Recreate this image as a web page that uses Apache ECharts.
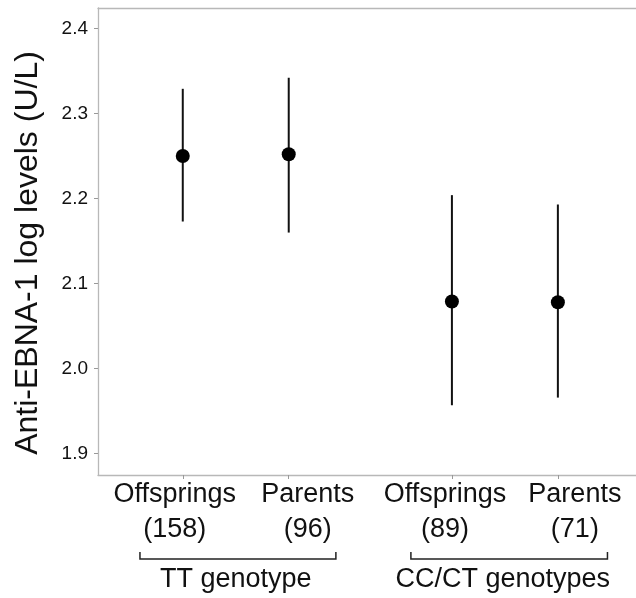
<!DOCTYPE html>
<html>
<head>
<meta charset="utf-8">
<script src="https://cdn.jsdelivr.net/npm/echarts@6/dist/echarts.min.js"></script>
<style>
html,body{margin:0;padding:0;background:#fff;overflow:hidden;width:636px;height:598px;}
#chart{width:700px;height:598px;}
</style>
</head>
<body>
<div id="chart"></div>
<script>
// ---- data ----
const categories = ['Offsprings', 'Parents', 'Offsprings', 'Parents'];
const counts = ['(158)', '(96)', '(89)', '(71)'];
const xPositions = [1, 2, 3.54, 4.54];
const means = [2.250, 2.252, 2.079, 2.078];
const lowers = [2.173, 2.160, 1.957, 1.966];
const uppers = [2.329, 2.342, 2.204, 2.193];
const yTicks = [1.9, 2.0, 2.1, 2.2, 2.3, 2.4];
const groupNames = ['TT genotype', 'CC/CT genotypes'];
const yTitle = 'Anti-EBNA-1 log levels (U/L)';

// ---- layout (not data) ----
const FONT = '"Liberation Sans", Arial, Helvetica, sans-serif';
const groupSpans = [[0.596, 2.445], [3.153, 5.008]];
const groupCenters = [1.50, 4.02];
const labelShift = [-8, 19, -7, 17];
const AXIS_GRAY = '#b8b8b8';

const chart = echarts.init(document.getElementById('chart'), null, {renderer: 'canvas'});

const pointData = xPositions.map((x, i) => [x, means[i]]);
const barData = xPositions.map((x, i) => [x, lowers[i], uppers[i]]);

chart.setOption({
  animation: false,
  backgroundColor: '#fff',
  grid: {
    left: 98, top: 8, right: 51, bottom: 123,
    outerBoundsMode: 'none',
    containLabel: false,
    show: false
  },
  xAxis: [
    {
      type: 'value', min: 0.2, max: 5.4, position: 'bottom',
      splitLine: {show: false},
      axisLine: {show: true, lineStyle: {color: AXIS_GRAY, width: 1.3}},
      axisTick: {show: true, customValues: xPositions, length: 4, lineStyle: {color: '#999'}},
      axisLabel: {show: false}
    },
    {
      type: 'value', min: 0.2, max: 5.4, position: 'top',
      splitLine: {show: false},
      axisLine: {show: true, lineStyle: {color: AXIS_GRAY, width: 1.3}},
      axisTick: {show: false},
      axisLabel: {show: false}
    }
  ],
  yAxis: {
    type: 'value', min: 1.875, max: 2.424,
    splitLine: {show: false},
    axisLine: {show: true, lineStyle: {color: AXIS_GRAY, width: 1.3}},
    axisTick: {show: true, customValues: yTicks, length: 4, lineStyle: {color: '#999'}},
    axisLabel: {
      customValues: yTicks, margin: 10,
      fontSize: 19, fontFamily: FONT, color: '#111',
      formatter: v => v.toFixed(1)
    }
  },
  series: [
    {
      type: 'custom',
      data: barData,
      encode: {x: 0, y: [1, 2]},
      renderItem: function (params, api) {
        const x = api.value(0);
        const lo = api.coord([x, api.value(1)]);
        const hi = api.coord([x, api.value(2)]);
        return {
          type: 'line',
          shape: {x1: lo[0], y1: lo[1], x2: hi[0], y2: hi[1]},
          style: {stroke: '#111', lineWidth: 2}
        };
      },
      z: 2
    },
    {
      type: 'scatter',
      data: pointData,
      symbol: 'circle',
      symbolSize: 14,
      itemStyle: {color: '#000', opacity: 1},
      z: 3
    }
  ]
});

function drawAnnotations() {
  const els = [];
  xPositions.forEach((x, i) => {
    const px = chart.convertToPixel({xAxisIndex: 0}, x) + labelShift[i];
    els.push({
      type: 'text', x: px, y: 495,
      style: {text: categories[i], font: '27px ' + FONT, fill: '#111', align: 'center', verticalAlign: 'middle'}
    });
    els.push({
      type: 'text', x: px, y: 530,
      style: {text: counts[i], font: '27px ' + FONT, fill: '#111', align: 'center', verticalAlign: 'middle'}
    });
  });
  const yBracket = 559;
  const hook = 7;
  groupSpans.forEach((span, g) => {
    const x1 = chart.convertToPixel({xAxisIndex: 0}, span[0]);
    const x2 = chart.convertToPixel({xAxisIndex: 0}, span[1]);
    els.push({
      type: 'polyline',
      shape: {points: [[x1, yBracket - hook], [x1, yBracket], [x2, yBracket], [x2, yBracket - hook]]},
      style: {stroke: '#222', lineWidth: 1.5, fill: null}
    });
    const cx = chart.convertToPixel({xAxisIndex: 0}, groupCenters[g]);
    els.push({
      type: 'text', x: cx, y: 580,
      style: {text: groupNames[g], font: '27px ' + FONT, fill: '#111', align: 'center', verticalAlign: 'middle'}
    });
  });
  els.push({
    type: 'text', x: 28, y: 253, rotation: Math.PI / 2,
    style: {text: yTitle, font: '32px ' + FONT, fill: '#111', align: 'center', verticalAlign: 'middle'}
  });
  chart.setOption({graphic: {elements: els}});
}
drawAnnotations();
</script>
</body>
</html>
